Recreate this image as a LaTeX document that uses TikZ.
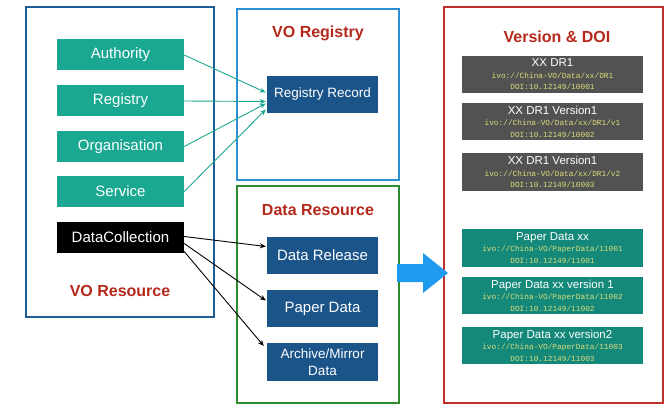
\documentclass[tikz,border=0pt]{standalone}
\usepackage{fontspec}
\setmainfont{Liberation Sans}
\setmonofont{Liberation Mono}
\usetikzlibrary{arrows.meta}
\definecolor{tealA}{HTML}{1AA892}
\definecolor{tealB}{HTML}{14897A}
\definecolor{navy}{HTML}{1A5489}
\definecolor{grayB}{HTML}{525252}
\definecolor{titlered}{HTML}{B5281C}
\definecolor{frameL}{HTML}{1E5C94}
\definecolor{frameR}{HTML}{2C8FD3}
\definecolor{frameG}{HTML}{2E8B2E}
\definecolor{frameRed}{HTML}{C0302A}
\definecolor{monoY}{HTML}{DCDC7A}
\definecolor{bigarrow}{HTML}{1E9BEE}
\begin{document}
\begin{tikzpicture}[x=1pt,y=-1pt,
  frame/.style={line width=1.6pt},
  title/.style={font=\fontsize{16}{18}\selectfont\bfseries, text=titlered},
  tbox/.style={fill=tealA, text=white, minimum width=127pt, minimum height=31pt, inner sep=0pt, font=\fontsize{15}{17}\selectfont},
  nbox/.style={fill=navy, text=white, minimum width=111pt, minimum height=37pt, inner sep=0pt, align=center},
  vbox/.style={minimum width=181pt, minimum height=37pt, inner sep=0pt, align=center, text=white},
  tarrow/.style={draw=tealA, line width=0.9pt, -{Stealth[length=6pt,width=5pt]}},
  karrow/.style={draw=black, line width=0.9pt, -{Stealth[length=6pt,width=5pt]}},
  mono/.style={}
]
\useasboundingbox (0,0) rectangle (671,406);
% frames
\draw[frame, draw=frameL] (26,7) rectangle (214,317);
\draw[frame, draw=frameR] (237,9) rectangle (399,180);
\draw[frame, draw=frameG] (237,186) rectangle (399,403);
\draw[frame, draw=frameRed] (444,7) rectangle (663,403);

% left column
\node[tbox] (auth) at (120.5,55) {Authority};
\node[tbox] (reg) at (120.5,101) {Registry};
\node[tbox] (org) at (120.5,146.5) {Organisation};
\node[tbox] (serv) at (120.5,191.5) {Service};
\node[tbox, fill=black] (dc) at (120.5,237.5) {DataCollection};
\node[title] (vores) at (120,291) {VO Resource};

% VO Registry
\node[title] (voreg) at (318,33) {VO Registry};
\node[nbox, font=\fontsize{13.5}{15}\selectfont] (rr) at (322.5,94.5) {Registry Record};

% Data Resource
\node[title] (dres) at (318,210) {Data Resource};
\node[nbox, font=\fontsize{15}{17}\selectfont] (drel) at (322.5,255.5) {Data Release};
\node[nbox, font=\fontsize{15}{17}\selectfont] (pd) at (322.5,308.5) {Paper Data};
\node[nbox, minimum height=38pt, font=\fontsize{13.5}{17}\selectfont] (arch) at (322.5,362) {Archive/Mirror\\Data};

% Version & DOI
\node[title] (vdoi) at (557,37) {Version \& DOI};
\newcommand{\vtext}[3]{{\fontsize{11.5}{11.5}\selectfont #1}\\[-0.5pt]{\fontsize{7.8}{11.5}\selectfont\ttfamily\color{monoY}#2}\\[-0.5pt]{\fontsize{7.8}{11.5}\selectfont\ttfamily\color{monoY}#3}}
\node[vbox, fill=grayB] (g1) at (552.5,74.5) {\vtext{XX DR1}{ivo://China-VO/Data/xx/DR1}{DOI:10.12149/10001}};
\node[vbox, fill=grayB] (g2) at (552.5,121.5) {\vtext{XX DR1 Version1}{ivo://China-VO/Data/xx/DR1/v1}{DOI:10.12149/10002}};
\node[vbox, fill=grayB, minimum height=38pt] (g3) at (552.5,172) {\vtext{XX DR1 Version1}{ivo://China-VO/Data/xx/DR1/v2}{DOI:10.12149/10003}};
\node[vbox, fill=tealB, minimum height=38pt] (t1) at (552.5,248) {\vtext{Paper Data xx}{ivo://China-VO/PaperData/11001}{DOI:10.12149/11001}};
\node[vbox, fill=tealB] (t2) at (552.5,295.5) {\vtext{Paper Data xx version 1}{ivo://China-VO/PaperData/11002}{DOI:10.12149/11002}};
\node[vbox, fill=tealB] (t3) at (552.5,345.5) {\vtext{Paper Data xx version2}{ivo://China-VO/PaperData/11003}{DOI:10.12149/11003}};

% big arrow
\fill[bigarrow] (397,264) -- (423,264) -- (423,253) -- (448,273) -- (423,293) -- (423,282) -- (397,282) -- cycle;

% connectors
\draw[tarrow] (auth.east) -- ([xshift=-1pt,yshift=2pt]rr.west);
\draw[tarrow] (reg.east) -- ([xshift=-1pt,yshift=-7pt]rr.west);
\draw[tarrow] (org.east) -- ([xshift=-1pt,yshift=-9pt]rr.west);
\draw[tarrow] (serv.east) -- ([xshift=-1pt,yshift=-15pt]rr.west);
\draw[karrow] ([yshift=1pt]dc.east) -- ([xshift=-1pt,yshift=9pt]drel.west);
\draw[karrow] ([yshift=-6pt]dc.east) -- ([xshift=-1pt,yshift=8pt]pd.west);
\draw[karrow] ([yshift=-14pt]dc.east) -- ([xshift=-3pt,yshift=16pt]arch.west);
\end{tikzpicture}
\end{document}
